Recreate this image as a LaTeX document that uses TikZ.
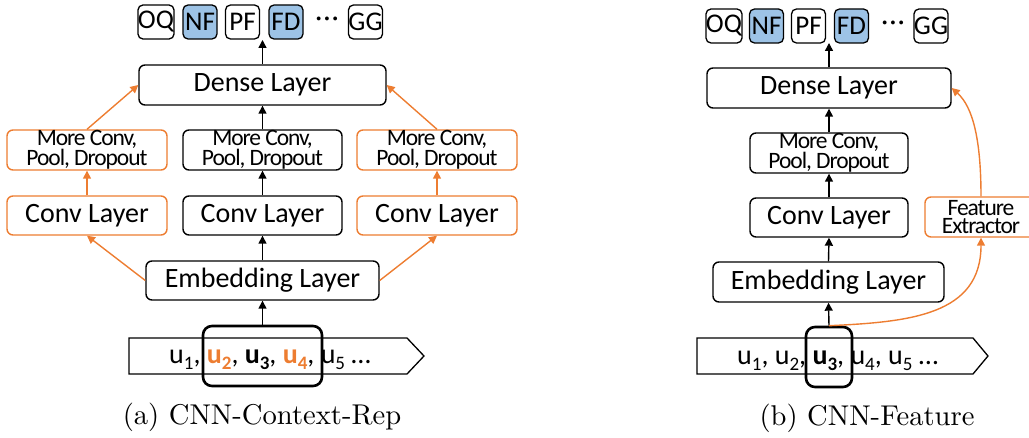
\documentclass[tikz,border=0pt]{standalone}
\usepackage{fontspec}
\usetikzlibrary{arrows.meta}
\newfontfamily\carl{Carlito}
\newfontfamily\carltight[LetterSpace=-4.5]{Carlito}
\newfontfamily\capfont[Extension=.otf]{lmroman10-regular}
\definecolor{accent}{HTML}{ED7D31}
\definecolor{tagblue}{HTML}{9DC3E6}
\newcommand\subs[1]{\raisebox{-6pt}{\fontsize{19}{19}\selectfont #1}}
\tikzset{
  layer/.style={draw, rounded corners=6pt, line width=1.4pt, fill=white,
    inner sep=0pt, font=\carl\fontsize{28}{32}\selectfont},
  multi/.style={layer, align=center, font=\carltight\fontsize{23.5}{18}\selectfont},
  tag/.style={draw, rounded corners=5pt, line width=1.3pt, minimum width=34pt,
    minimum height=34pt, inner sep=0pt, font=\carl\fontsize{27}{27}\selectfont},
  tagon/.style={tag, fill=tagblue},
  dotsym/.style={inner sep=0pt, font=\carl\fontsize{27}{27}\selectfont},
  flow/.style={-{Triangle[length=8pt,width=8pt]}, line width=1.4pt},
  accentflow/.style={flow, color=accent},
  window/.style={draw, rounded corners=9pt, line width=2.6pt, inner sep=0pt},
  seq/.style={line width=1.3pt},
  seqtext/.style={inner sep=0pt, anchor=base west, font=\carl\fontsize{28}{32}\selectfont},
  caption/.style={inner sep=0pt, font=\capfont\fontsize{28.6}{34}\selectfont}
}
\begin{document}
\begin{tikzpicture}[x=1pt, y=-1pt]
\useasboundingbox (0,0) rectangle (1029,438);

% ---------- (a) CNN-Context-Rep ----------
% output tags
\node[tag]    (oqA) at (156,22)   {OQ};
\node[tagon]  (nfA) at (200,22)   {NF};
\node[tag]    (pfA) at (242.5,22) {PF};
\node[tagon]  (fdA) at (286,22)   {FD};
\node[dotsym] (dtA) at (327,22)   {·\kern1.5pt·\kern1.5pt·};
\node[tag]    (ggA) at (365.5,22) {GG};
\coordinate (outA) at (262.5,40);

% layers
\node[layer, minimum width=247pt, minimum height=40pt] (denseA) at (262.5,85) {Dense Layer};
\node[multi, draw=accent, minimum width=160pt, minimum height=40pt] (mcL) at (87,150) {More Conv,\\Pool, Dropout};
\node[multi, minimum width=159pt, minimum height=40pt] (mcM) at (262.5,150) {More Conv,\\Pool, Dropout};
\node[multi, draw=accent, minimum width=160pt, minimum height=40pt] (mcR) at (437,150) {More Conv,\\Pool, Dropout};
\node[layer, draw=accent, minimum width=160pt, minimum height=39pt] (convL) at (87,215.5) {Conv Layer};
\node[layer, minimum width=159pt, minimum height=39pt] (convM) at (262.5,215.5) {Conv Layer};
\node[layer, draw=accent, minimum width=160pt, minimum height=39pt] (convR) at (437,215.5) {Conv Layer};
\node[layer, minimum width=233pt, minimum height=39pt] (embA) at (262.5,280.5) {Embedding Layer};

% input sequence
\draw[seq] (129,338) -- (407,338) -- (424,356) -- (407,374) -- (129,374) -- cycle;
\node[seqtext] (seqA) at (169,364)
  {u\subs{1}, {\bfseries\color{accent}u\subs{2}}, {\bfseries u\subs{3}}, {\bfseries\color{accent}u\subs{4}}, u\subs{5} …};
\node[window, minimum width=119pt, minimum height=60pt] (hlA) at (262.5,356) {};

% connectors
\draw[flow] (hlA.north) -- (embA.south);
\draw[flow] (embA.north) -- (convM.south);
\draw[flow] (convM.north) -- (mcM.south);
\draw[flow] (mcM.north) -- (denseA.south);
\draw[flow] (denseA.north) -- (outA);
\draw[accentflow] (embA.west) -- (convL.south);
\draw[accentflow] (embA.east) -- (convR.south);
\draw[accentflow] (convL.north) -- (mcL.south);
\draw[accentflow] (convR.north) -- (mcR.south);
\draw[accentflow] (mcL.north) -- (denseA.west);
\draw[accentflow] (mcR.north) -- (denseA.east);

\node[caption] (capA) at (262,417) {(a) CNN-Context-Rep};

% ---------- (b) CNN-Feature ----------
\node[tag]    (oqB) at (724,26)   {OQ};
\node[tagon]  (nfB) at (766.5,26) {NF};
\node[tag]    (pfB) at (808.5,26) {PF};
\node[tagon]  (fdB) at (851.5,26) {FD};
\node[dotsym] (dtB) at (893,26)   {·\kern1.5pt·\kern1.5pt·};
\node[tag]    (ggB) at (931,26)   {GG};
\coordinate (outB) at (829,43);

\node[layer, minimum width=244pt, minimum height=40pt] (denseB) at (829,88) {Dense Layer};
\node[multi, minimum width=158pt, minimum height=40pt] (mcB) at (829,153) {More Conv,\\Pool, Dropout};
\node[layer, minimum width=158pt, minimum height=39pt] (convB) at (829,217.5) {Conv Layer};
\node[layer, minimum width=231pt, minimum height=40pt] (embB) at (828.5,282) {Embedding Layer};
\node[multi, draw=accent, minimum width=112pt, minimum height=40pt] (fe) at (981,217) {Feature\\Extractor};

\draw[seq] (697,338) -- (973,338) -- (988,356) -- (973,374) -- (697,374) -- cycle;
\node[seqtext] (seqB) at (737,365)
  {u\subs{1}, u\subs{2}, {\bfseries u\subs{3}}, u\subs{4}, u\subs{5} …};
\node[window, minimum width=46pt, minimum height=60pt] (hlB) at (829,357) {};

\draw[flow] (hlB.north) -- (embB.south);
\draw[flow] (embB.north) -- (convB.south);
\draw[flow] (convB.north) -- (mcB.south);
\draw[flow] (mcB.north) -- (denseB.south);
\draw[flow] (denseB.north) -- (outB);
\draw[accentflow] (hlB.north) .. controls (910,322) and (981,315) .. (fe.south);
\draw[accentflow] (fe.north) .. controls (981,140) and (973,107) .. (denseB.east);

\node[caption] (capB) at (867,418) {(b) CNN-Feature};
\end{tikzpicture}
\end{document}
